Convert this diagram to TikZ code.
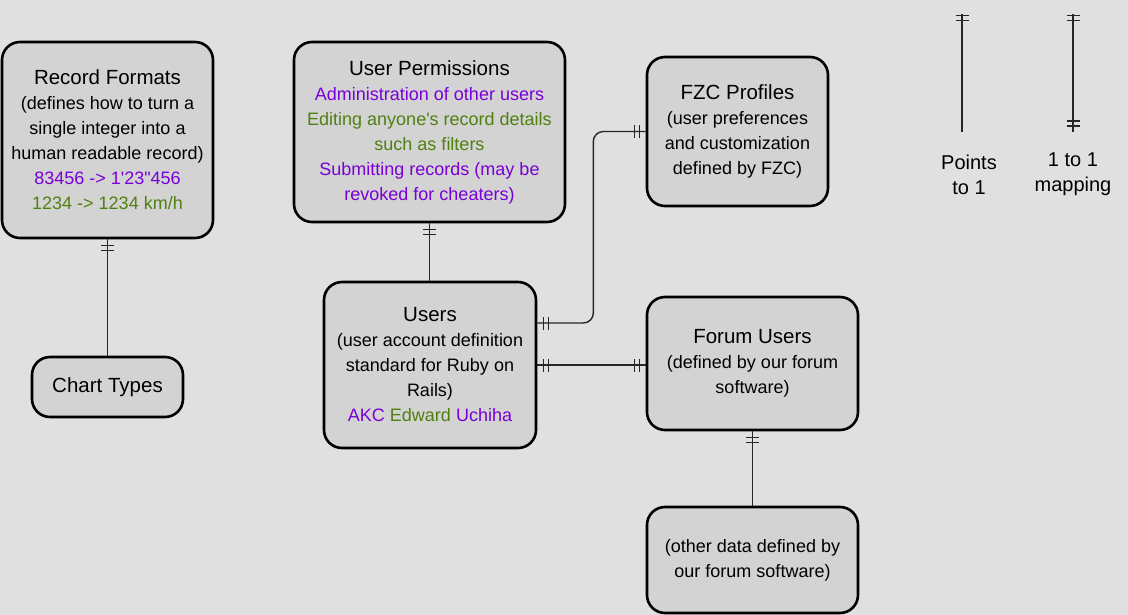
\documentclass[tikz,border=0pt]{standalone}
\usepackage{fontspec}
\setmainfont{Liberation Sans}[Ligatures=TeXOff]
\usetikzlibrary{decorations.markings}

\definecolor{bggray}{RGB}{224,224,224}
\definecolor{boxgray}{RGB}{211,211,211}
\definecolor{perm}{RGB}{120,0,215}
\definecolor{okgreen}{RGB}{80,128,16}
\newcommand{\ttl}[1]{{\fontsize{20.5}{25}\selectfont #1}}

\tikzset{
  entity/.style={draw, line width=2.6pt, fill=boxgray, rounded corners=18pt,
    align=center, inner sep=0pt, font=\fontsize{18}{25}\selectfont},
  link/.style={line width=1.4pt, black!85},
  legend/.style={link, line width=1.8pt},
  bar at/.style={postaction={decorate, decoration={markings,
    mark=at position #1 with {\draw[link, line width=1.5pt] (0,-6.5pt) -- (0,6.5pt);}}}},
  one start/.style={bar at=6pt, bar at=11pt},
  one end/.style={bar at=-6pt, bar at=-11pt},
}

\begin{document}
\begin{tikzpicture}[x=1pt, y=-1pt]
    \fill[bggray] (0,0) rectangle (1128,615);
    \useasboundingbox (0,0) rectangle (1128,615);

    % entities
    \node[entity, minimum width=211pt, minimum height=196pt] (formats) at (107.5,140)
      {\ttl{Record Formats}\\(defines how to turn a\\single integer into a\\human readable record)\\
       \textcolor{perm}{83456 -> 1'23"456}\\\textcolor{okgreen}{1234 -> 1234 km/h}};
    \node[entity, minimum width=151pt, minimum height=60pt] (charts) at (107.5,387)
      {\ttl{Chart Types}};
    \node[entity, minimum width=271pt, minimum height=180pt] (perms) at (429.5,132)
      {\ttl{User Permissions}\\\textcolor{perm}{Administration of other users}\\
       \textcolor{okgreen}{Editing anyone's record details}\\\textcolor{okgreen}{such as filters}\\
       \textcolor{perm}{Submitting records (may be}\\\textcolor{perm}{revoked for cheaters)}};
    \node[entity, minimum width=181pt, minimum height=149pt] (fzc) at (737.5,131.5)
      {\ttl{FZC Profiles}\\(user preferences\\and customization\\defined by FZC)};
    \node[entity, minimum width=212pt, minimum height=166pt] (users) at (430,365)
      {\ttl{Users}\\(user account definition\\standard for Ruby on\\Rails)\\
       \textcolor{perm}{AKC} \textcolor{okgreen}{Edward} \textcolor{perm}{Uchiha}};
    \node[entity, minimum width=211pt, minimum height=133pt] (forum) at (752.5,363.5)
      {\ttl{Forum Users}\\(defined by our forum\\software)};
    \node[entity, minimum width=211pt, minimum height=106pt] (other) at (752.5,560)
      {(other data defined by\\our forum software)};

    % relations
    \draw[link, one start] (formats) -- (charts);
    \draw[link, one start] (perms.south) -- (perms.south |- users.north);
    \draw[link, one start, one end, rounded corners=10pt]
      ([yshift=42pt]users.east) -- ++(56,0) |- (fzc.west);
    \draw[link, one start, one end] (users.east) -- (users.east -| forum.west);
    \draw[link, one start] (forum) -- (other);

    % legend
    \coordinate (pa) at (962,14);
    \coordinate (pb) at (962,132);
    \coordinate (ma) at (1073,14);
    \coordinate (mb) at (1073,132);
    \draw[legend, bar at=1.5pt, bar at=6.5pt] (pa) -- (pb);
    \draw[legend, bar at=1.5pt, bar at=6.5pt, one end] (ma) -- (mb);
    \node[align=center, font=\fontsize{20}{25}\selectfont] (plabel) at (969,174.5) {Points\\to 1};
    \node[align=center, font=\fontsize{20}{25}\selectfont] (mlabel) at (1073,174.5) {1 to 1\\mapping};
\end{tikzpicture}
\end{document}
